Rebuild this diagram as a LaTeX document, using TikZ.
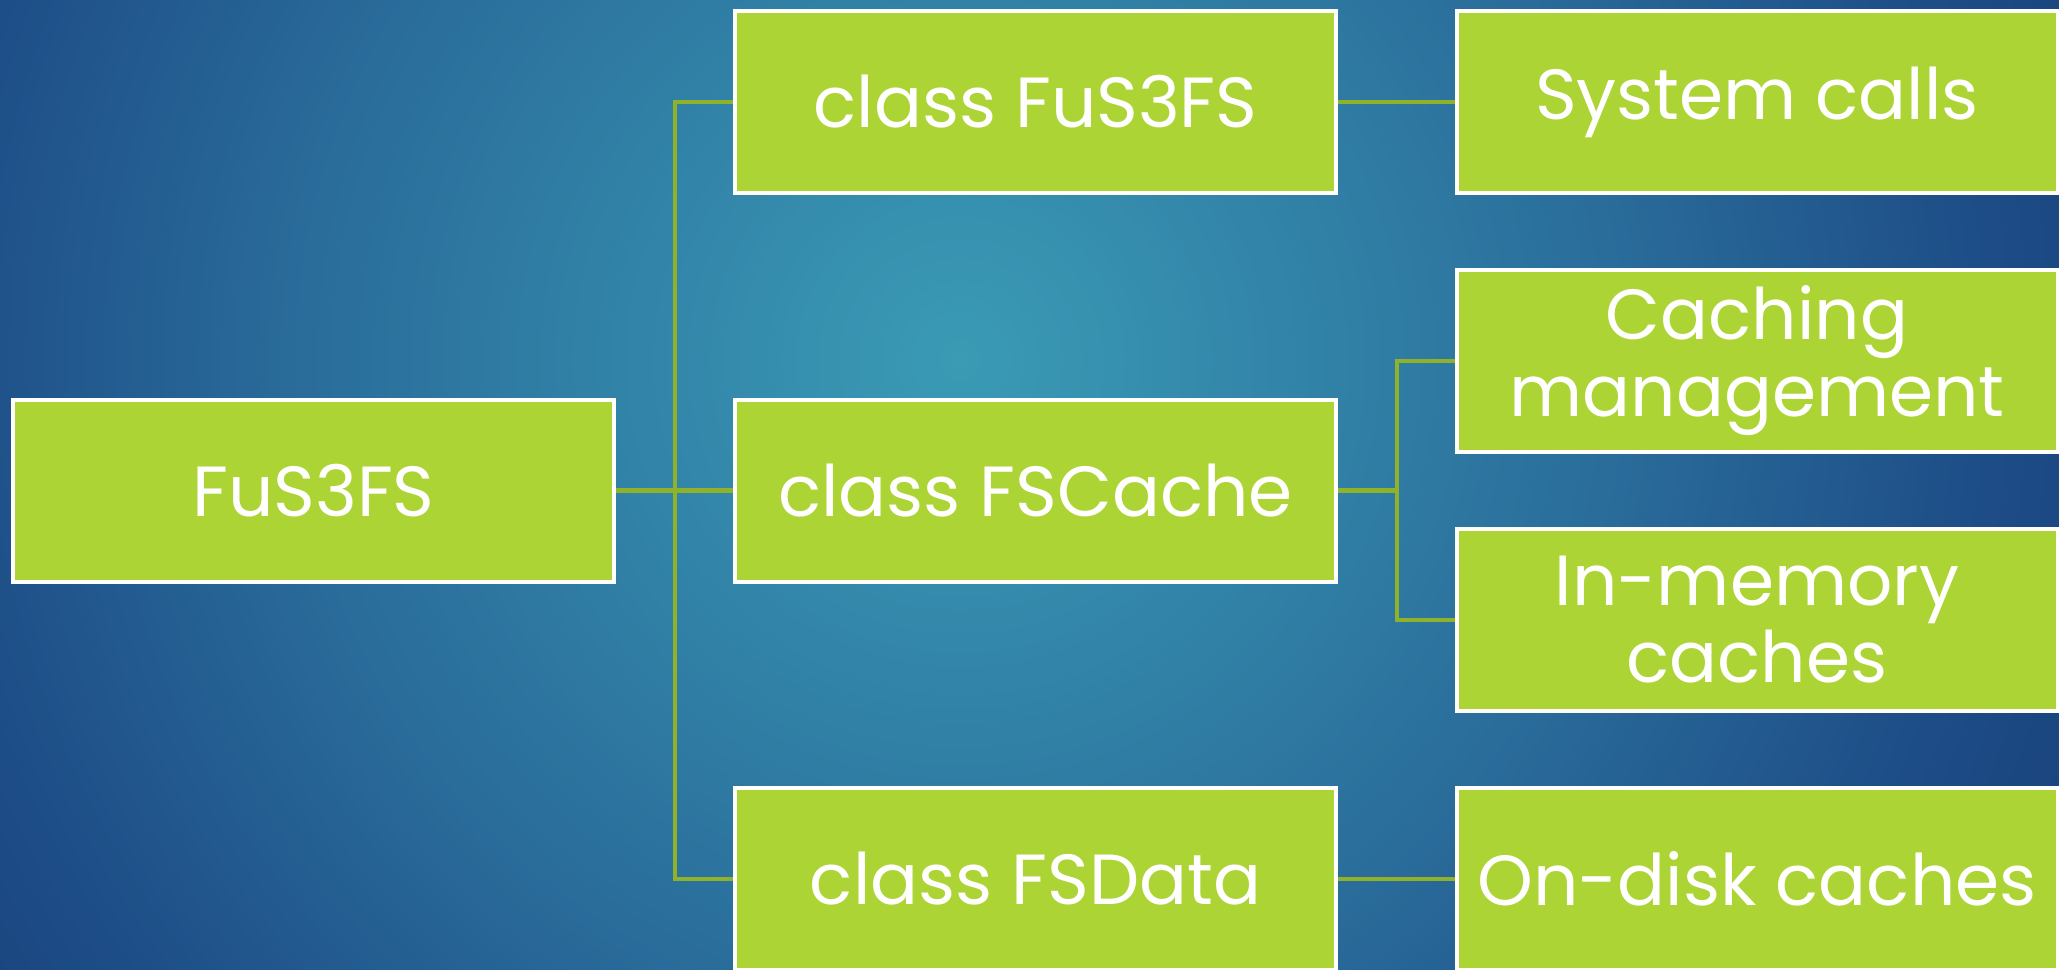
\documentclass[tikz,border=0pt]{standalone}
\usepackage{fontspec}
\setmainfont{Poppins}
\definecolor{boxgreen}{HTML}{ADD435}
\definecolor{linegreen}{HTML}{8FB22A}
\definecolor{bgA}{HTML}{3A9BB5}
\definecolor{bgB}{HTML}{3387AA}
\definecolor{bgC}{HTML}{2A6D9B}
\definecolor{bgD}{HTML}{1D4C86}
\definecolor{bgE}{HTML}{183F78}
\pgfdeclareradialshading{bgshade}{\pgfpoint{0bp}{0bp}}{color(0bp)=(bgA); color(5.5bp)=(bgB); color(12.5bp)=(bgC); color(20bp)=(bgD); color(25bp)=(bgE); color(50bp)=(bgE)}
\tikzset{
  box/.style={rectangle, draw=white, line width=2pt, fill=boxgreen, text=white,
    minimum width=300.5pt, minimum height=91pt, inner sep=0pt, align=center,
    font=\fontsize{35.5}{38.5}\selectfont},
  conn/.style={draw=linegreen, line width=2.2pt}
}
\begin{document}
\begin{tikzpicture}[x=0.5pt,y=-0.5pt]
\useasboundingbox (0,0) rectangle (2059,969);
\begin{scope}
\clip (0,0) rectangle (2059,969);
\shade[shading=bgshade] (960,360) circle[radius=650pt];
\end{scope}
\node[box] (root) at (313.5,490.5) {FuS3FS};
\node[box] (c1) at (1035.5,102) {class FuS3FS};
\node[box] (c2) at (1035.5,490.5) {class FSCache};
\node[box] (c3) at (1035.5,879) {class FSData};
\node[box] (s1) at (1757,102) {System calls};
\node[box] (s2) at (1757,361) {Caching\\management};
\node[box] (s3) at (1757,620) {In-memory\\caches};
\node[box] (s4) at (1757,879) {On-disk caches};
\coordinate (j1) at (675,490.5);
\coordinate (j2) at (1397,490.5);
\draw[conn] (root.east) -- (j1);
\draw[conn] (j1) |- (c1.west);
\draw[conn] (j1) -- (c2.west);
\draw[conn] (j1) |- (c3.west);
\draw[conn] (c1.east) -- (s1.west);
\draw[conn] (c2.east) -- (j2);
\draw[conn] (j2) |- (s2.west);
\draw[conn] (j2) |- (s3.west);
\draw[conn] (c3.east) -- (s4.west);
\end{tikzpicture}
\end{document}
